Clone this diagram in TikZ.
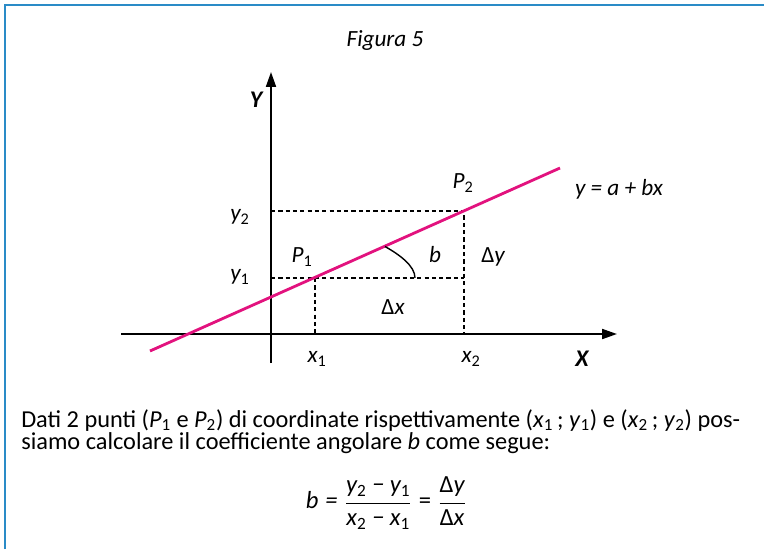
\documentclass[tikz,border=0pt]{standalone}
\usepackage{fontspec}
\setmainfont{Carlito}
\usetikzlibrary{arrows.meta,calc}
\definecolor{frameblue}{HTML}{2A8BC7}
\definecolor{linemagenta}{HTML}{E2127E}
\newcommand{\ix}[1]{\textsubscript{\upshape #1}}
\tikzset{
  axisline/.style={line width=1.4pt, -{Triangle[length=10.5pt,width=7pt]}},
  guide/.style={line width=0.9pt, dash pattern=on 3pt off 2.2pt},
  lbl/.style={font=\fontsize{16.5}{18}\selectfont\itshape, inner sep=0pt},
  axlbl/.style={font=\fontsize{17}{19}\selectfont\bfseries\itshape, inner sep=0pt},
}
\begin{document}
\begin{tikzpicture}[x=0.025cm, y=-0.025cm]
\useasboundingbox (0,0) rectangle (764,549);
\draw[frameblue, line width=1.8pt] (5,549) -- (5,5) -- (764,5);
\node[lbl] (title) at (385,40) {Figura 5};
% axes
\coordinate (O) at (271,334);
\coordinate (xa) at (121,334);
\coordinate (xb) at (617,334);
\coordinate (ya) at (271,363);
\coordinate (yb) at (271,72);
\draw[axisline] (xa) -- (xb);
\draw[axisline] (ya) -- (yb);
\node[axlbl] (ylab) at (256,100) {Y};
\node[axlbl] (xlab) at (582,359) {X};
% points and guides
\coordinate (P1) at (315,278);
\coordinate (P2) at (464,211);
\coordinate (L0) at (150,351);
\coordinate (L1) at (560,168);
\draw[guide] (O |- P2) -- (P2) -- (P2 |- O);
\draw[guide] (O |- P1) -- (P1 -| P2);
\draw[guide] (P1) -- (P1 |- O);
\draw[linemagenta, line width=2pt] (L0) -- (L1);
\coordinate (arcA) at ($(P1)!0.47!(P2)$);
\coordinate (arcB) at (415,278);
\draw[line width=1pt] (arcA) .. controls (400,255) and (415,266) .. (arcB);
% labels
\node[lbl] (y2lab) at (240,217) {y\ix2};
\node[lbl] (y1lab) at (240,277) {y\ix1};
\node[lbl] (p1lab) at (302,257) {P\ix1};
\node[lbl] (p2lab) at (463,183) {P\ix2};
\node[lbl] (blab) at (435,255) {b};
\node[lbl] (dylab) at (493,257) {{\upshape Δ}y};
\node[lbl] (dxlab) at (393,307) {{\upshape Δ}x};
\node[lbl] (x1lab) at (317,359) {x\ix1};
\node[lbl] (x2lab) at (471,359) {x\ix2};
\node[lbl] (eqlab) at (619,189) {y = a + bx};
% text below
\node[anchor=north west, align=left, inner sep=0pt, font=\fontsize{17.3}{14.4}\selectfont] (note) at (21,409)
  {Dati 2 punti (\textit{P}\ix1 e \textit{P}\ix2) di coordinate rispettivamente (\textit{x}\ix1\,; \textit{y}\ix1) e (\textit{x}\ix2\,; \textit{y}\ix2) pos-\\
   siamo calcolare il coefficiente angolare \textit{b} come segue:};
\node[inner sep=0pt, font=\fontsize{17.5}{19}\selectfont] (formula) at (386,503)
  {$\displaystyle\mbox{\itshape b\;=\;}\frac{\mbox{\itshape y\ix2 − y\ix1}}{\mbox{\itshape x\ix2 − x\ix1}}\mbox{\;=\;}\frac{\mbox{Δ\itshape y}}{\mbox{Δ\itshape x}}$};
\end{tikzpicture}
\end{document}
